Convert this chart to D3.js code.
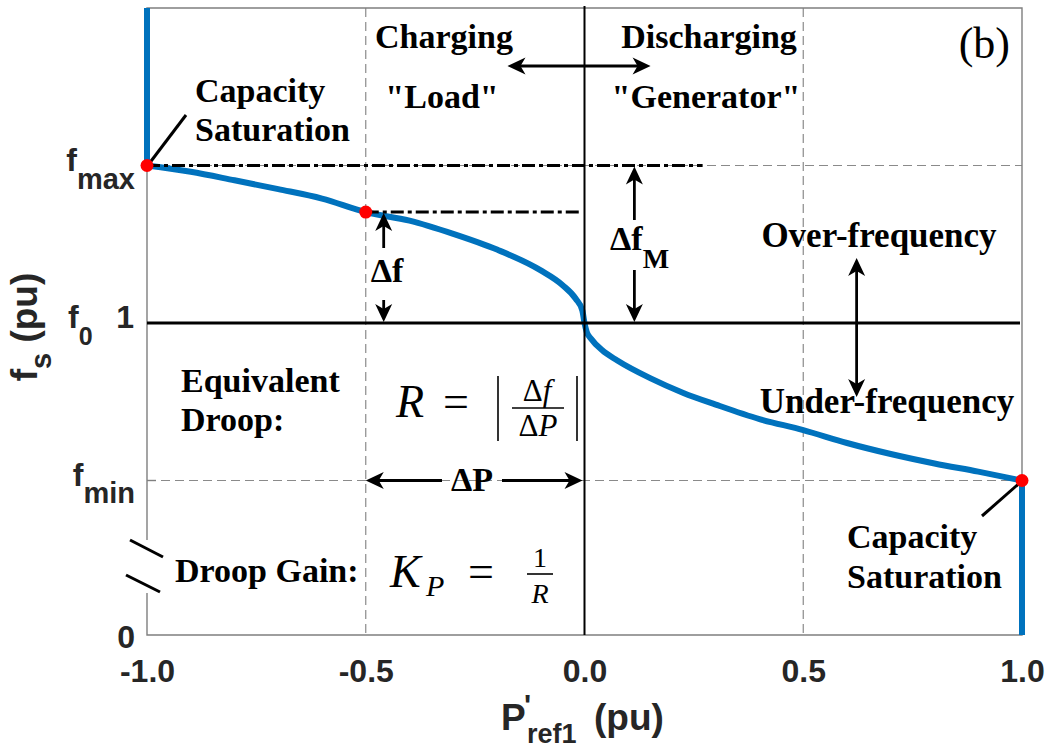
<!DOCTYPE html>
<html>
<head>
<meta charset="utf-8">
<script src="https://cdn.jsdelivr.net/npm/d3@7"></script>
<style>
  html, body { margin: 0; padding: 0; background: #fff; }
  svg { display: block; }
</style>
</head>
<body>
<svg id="chart" width="1049" height="751"></svg>
<script>
// Droop characteristic of the storage unit: frequency set-point vs. power reference
const fMax = 1.05;
const f0 = 1.0;
const fMin = 0.95;

// power reference (pu) and frequency (pu) along the droop curve
const pCurve = [-1, -0.9, -0.8, -0.7, -0.6, -0.5, -0.4, -0.3, -0.2, -0.1, -0.05, -0.02, -0.005,
  0, 0.005, 0.015, 0.04, 0.075, 0.15, 0.226, 0.3, 0.4, 0.5, 0.6, 0.7, 0.8, 0.9, 1];
const fCurve = [1.05, 1.048, 1.0453, 1.0425, 1.0395, 1.0352, 1.0325, 1.0283, 1.0233, 1.0167,
  1.012, 1.0077, 1.004, 1.0, 0.9972, 0.995, 0.9914, 0.9881, 0.9825, 0.9778, 0.9741, 0.9695,
  0.966, 0.9619, 0.9584, 0.9554, 0.9528, 0.95];

// capacity saturation segments at both ends
const satLowP = [-1, -1];
const satLowF = [fMax, 1.1];
const satHighP = [1, 1];
const satHighF = [fMin, 0];

// marked operating points
const markP = [-1, -0.5, 1];
const markF = [fMax, 1.0352, fMin];

// axes
const xTicks = [-1, -0.5, 0, 0.5, 1];
const xTickLabels = ["-1.0", "-0.5", "0.0", "0.5", "1.0"];
const xGrid = [-0.5, 0.5];
const yGrid = [fMin, fMax];

const svg = d3.select("#chart");
const L = 147, R = 1022, T = 8, B = 635;
const SANS = "'Liberation Sans', Arial, sans-serif";
const SERIF = "'Liberation Serif', 'Times New Roman', serif";
const BLUE = "#0072BD";

const x = d3.scaleLinear().domain([-1, 1]).range([L, R]);
// broken y axis: 0 sits just below the break, the band fMin..1.1 is linear
const ppu = (B - T - 154.5) / 0.15;
const y = d3.scaleLinear().domain([0, fMin, 1.1]).range([B, T + 0.15 * ppu, T]);

// grid
const grid = svg.append("g").attr("stroke", "#8a8a8a").attr("stroke-width", 1.2)
  .attr("stroke-dasharray", "9,5").attr("fill", "none");
grid.selectAll("line.v").data(xGrid).join("line").attr("class", "v")
  .attr("x1", d => x(d)).attr("x2", d => x(d)).attr("y1", T).attr("y2", B);
grid.selectAll("line.h").data(yGrid).join("line").attr("class", "h")
  .attr("x1", L).attr("x2", R).attr("y1", d => y(d)).attr("y2", d => y(d));

// frame with axis break on the left side
const frame = svg.append("g").attr("stroke", "#7f7f7f").attr("stroke-width", 1.4).attr("fill", "none");
frame.append("path").attr("d", `M${L},540 V${T} H${R} V${B} H${L} V593`);
// inward y tick marks
frame.selectAll("line.yt").data([fMin, f0, fMax]).join("line").attr("class", "yt")
  .attr("x1", L).attr("x2", L + 9).attr("y1", d => y(d)).attr("y2", d => y(d));

// x axis tick labels
const xAxis = d3.axisBottom(x).tickValues(xTicks).tickSize(0)
  .tickFormat((d, i) => xTickLabels[i]);
const gx = svg.append("g").attr("transform", `translate(0,${B})`).call(xAxis);
gx.select(".domain").remove();
gx.selectAll("text").attr("y", 47).attr("dy", 0)
  .attr("font-family", SANS).attr("font-weight", "bold").attr("font-size", 32)
  .attr("fill", "#262626");

// y tick labels
const yLab = svg.append("g").attr("font-family", SANS).attr("font-weight", "bold")
  .attr("fill", "#262626");
function fLabel(base, sub, yy, subDy, subSize) {
  const t = yLab.append("text").attr("x", 135).attr("y", yy).attr("text-anchor", "end")
    .attr("font-size", 32);
  t.append("tspan").text(base);
  t.append("tspan").attr("dy", subDy).attr("font-size", subSize).text(sub);
}
fLabel("f", "max", y(fMax) + 5, 18, 29);
fLabel("f", "min", y(fMin) + 5, 17, 29);
yLab.append("text").attr("x", 68).attr("y", y(f0) + 5).attr("font-size", 32)
  .call(t => { t.append("tspan").text("f"); t.append("tspan").attr("dy", 17).attr("font-size", 25).text("0"); });
yLab.append("text").attr("x", 134).attr("y", y(f0) + 5).attr("text-anchor", "end")
  .attr("font-size", 32).text("1");
yLab.append("text").attr("x", 135).attr("y", y(0) + 13).attr("text-anchor", "end")
  .attr("font-size", 32).text("0");

// axis break marks
svg.append("g").attr("stroke", "#000").attr("stroke-width", 3)
  .selectAll("line").data([[130, 540, 163, 557], [126, 575, 160, 592]]).join("line")
  .attr("x1", d => d[0]).attr("y1", d => d[1]).attr("x2", d => d[2]).attr("y2", d => d[3]);

// axis titles
svg.append("text").attr("transform", "translate(37,327) rotate(-90)")
  .attr("text-anchor", "middle").attr("font-family", SANS).attr("font-weight", "bold")
  .attr("font-size", 37).attr("fill", "#262626")
  .call(t => {
    t.append("tspan").text("f");
    t.append("tspan").attr("dy", 14).attr("font-size", 29).text("s");
    t.append("tspan").attr("dy", -14).text(" (pu)");
  });
const xt = svg.append("g").attr("font-family", SANS).attr("font-weight", "bold")
  .attr("fill", "#262626");
xt.append("text").attr("x", 501).attr("y", 730).attr("font-size", 37).text("P");
xt.append("text").attr("x", 524).attr("y", 715).attr("font-size", 30).text("'");
xt.append("text").attr("x", 527).attr("y", 743).attr("font-size", 27).text("ref1");
xt.append("text").attr("x", 594).attr("y", 730).attr("font-size", 37).text("(pu)");

// droop curve and saturation segments
const curvePts = pCurve.map((p, i) => [p, fCurve[i]]);
const smooth = d3.line().x(d => x(d[0])).y(d => y(d[1])).curve(d3.curveMonotoneX);
svg.append("path").attr("d", smooth(curvePts))
  .attr("fill", "none").attr("stroke", BLUE).attr("stroke-width", 6);
const straight = d3.line().x(d => x(d[0])).y(d => y(d[1]));
[[satLowP, satLowF], [satHighP, satHighF]].forEach(([ps, fs]) => {
  svg.append("path").attr("d", straight(ps.map((p, i) => [p, fs[i]])))
    .attr("fill", "none").attr("stroke", BLUE).attr("stroke-width", 6);
});

// reference lines: f0, zero power, dash-dot projections
svg.append("line").attr("x1", L).attr("x2", R - 2).attr("y1", y(f0)).attr("y2", y(f0))
  .attr("stroke", "#000").attr("stroke-width", 3);
svg.append("line").attr("x1", x(0)).attr("x2", x(0)).attr("y1", T - 2).attr("y2", B)
  .attr("stroke", "#000").attr("stroke-width", 2);
const dashDot = [[-1, 0.27, fMax], [-0.5, -0.01, 1.0352]];
svg.append("g").selectAll("line").data(dashDot).join("line")
  .attr("x1", d => x(d[0])).attr("x2", d => x(d[1]))
  .attr("y1", d => y(d[2])).attr("y2", d => y(d[2]))
  .attr("stroke", "#000").attr("stroke-width", 3).attr("stroke-dasharray", "13,4,4,4");

// pointer lines to the saturation points
svg.append("g").attr("stroke", "#000").attr("stroke-width", 3)
  .selectAll("line").data([[186, 115, x(-1) + 3, y(fMax) - 3], [982, 516, x(1) - 3, y(fMin) + 3]])
  .join("line")
  .attr("x1", d => d[0]).attr("y1", d => d[1]).attr("x2", d => d[2]).attr("y2", d => d[3]);

// operating points
svg.append("g").selectAll("circle").data(markP.map((p, i) => [p, markF[i]])).join("circle")
  .attr("cx", d => x(d[0])).attr("cy", d => y(d[1])).attr("r", 6.5).attr("fill", "#ff0000");

// arrows
const arrows = svg.append("g");
function head(tx, ty, ang) {
  const Lh = 18, W = 8.5, N = 5;
  const c = Math.cos(ang), s = Math.sin(ang);
  const pt = (u, v) => [tx + u * c - v * s, ty + u * s + v * c];
  const pts = [pt(0, 0), pt(-Lh, W), pt(-Lh + N, 0), pt(-Lh, -W)];
  arrows.append("path").attr("d", "M" + pts.map(p => p.join(",")).join("L") + "Z")
    .attr("fill", "#000");
}
function arrow(x1, y1, x2, y2, both) {
  const ang = Math.atan2(y2 - y1, x2 - x1);
  arrows.append("line").attr("x1", both ? x1 + 10 * Math.cos(ang) : x1).attr("y1", both ? y1 + 10 * Math.sin(ang) : y1)
    .attr("x2", x2 - 10 * Math.cos(ang)).attr("y2", y2 - 10 * Math.sin(ang))
    .attr("stroke", "#000").attr("stroke-width", 2.8);
  head(x2, y2, ang);
  if (both) head(x1, y1, ang + Math.PI);
}
arrow(x(-0.176), 66, x(0.151), 66, true);                 // charging <-> discharging
arrow(x(-0.459), 248, x(-0.459), y(1.0352) + 1, false);   // delta f
arrow(x(-0.459), 300, x(-0.459), y(f0) - 1, false);
arrow(x(0.114), 220, x(0.114), y(fMax) + 1, false);       // delta f_M
arrow(x(0.114), 270, x(0.114), y(f0) - 1, false);
arrow(x(0.622), y(1.0206), x(0.622), y(0.9765), true);    // over / under frequency
arrow(442, y(fMin), x(-0.5), y(fMin), false);             // delta P
arrow(502, y(fMin), x(0) - 2, y(fMin), false);

// annotation text
const ann = svg.append("g").attr("font-family", SERIF).attr("font-weight", "bold")
  .attr("font-size", 34).attr("fill", "#000");
function label(txt, xx, yy, anchor, size) {
  return ann.append("text").attr("x", xx).attr("y", yy).attr("text-anchor", anchor || "start")
    .attr("font-size", size || 34).text(txt);
}
label("Charging", 444, 48, "middle");
label("Discharging", 709, 48, "middle");
label("\"Load\"", 442, 108, "middle");
label("\"Generator\"", 706, 108, "middle");
label("Capacity", 195, 102);
label("Saturation", 195, 141);
label("Over-frequency", 879, 247, "middle", 35);
label("Under-frequency", 887, 413, "middle", 35);
label("Equivalent", 181, 392);
label("Droop:", 181, 431);
label("Droop Gain:", 175, 582);
label("Capacity", 847, 548);
label("Saturation", 847, 588);
label("\u0394f", 387, 282, "middle");
label("\u0394P", 472, 491, "middle");
ann.append("text").attr("x", 610).attr("y", 250)
  .call(t => { t.append("tspan").text("\u0394f"); t.append("tspan").attr("dy", 18).attr("font-size", 28).text("M"); });
ann.append("text").attr("x", 1010).attr("y", 58).attr("text-anchor", "end")
  .attr("font-weight", "normal").attr("font-size", 44).text("(b)");

// droop formulas
const math = svg.append("g").attr("font-family", SERIF).attr("fill", "#000");
function m(txt, xx, yy, size, italic, anchor) {
  math.append("text").attr("x", xx).attr("y", yy).attr("font-size", size)
    .attr("font-style", italic ? "italic" : "normal").attr("text-anchor", anchor || "start").text(txt);
}
m("R", 396, 417, 46, true);
m("=", 443, 417, 46, false);
math.append("line").attr("x1", 498).attr("x2", 498).attr("y1", 376).attr("y2", 441).attr("stroke", "#000").attr("stroke-width", 1.6);
math.append("line").attr("x1", 577).attr("x2", 577).attr("y1", 376).attr("y2", 441).attr("stroke", "#000").attr("stroke-width", 1.6);
math.append("text").attr("x", 537).attr("y", 401).attr("font-size", 31).attr("text-anchor", "middle")
  .call(t => { t.append("tspan").text("\u0394"); t.append("tspan").attr("font-style", "italic").text("f"); });
math.append("line").attr("x1", 512).attr("x2", 564).attr("y1", 408).attr("y2", 408).attr("stroke", "#000").attr("stroke-width", 1.6);
math.append("text").attr("x", 538).attr("y", 436).attr("font-size", 31).attr("text-anchor", "middle")
  .call(t => { t.append("tspan").text("\u0394"); t.append("tspan").attr("font-style", "italic").text("P"); });

m("K", 390, 587, 46, true);
m("P", 426, 596, 30, true);
m("=", 468, 587, 46, false);
m("1", 540, 567, 28, false, "middle");
math.append("line").attr("x1", 527).attr("x2", 553).attr("y1", 574).attr("y2", 574).attr("stroke", "#000").attr("stroke-width", 1.6);
m("R", 540, 603, 28, true, "middle");
</script>
</body>
</html>
